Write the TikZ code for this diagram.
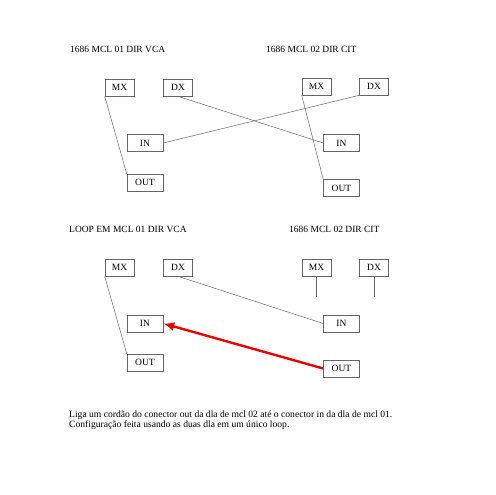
\documentclass[tikz,border=0pt]{standalone}
\usepackage{fontspec}
\setmainfont{Liberation Serif}
\usetikzlibrary{arrows.meta}

\begin{document}
\begin{tikzpicture}[x=1pt,y=-1pt,
	font=\fontsize{9.5}{9.5}\selectfont,
	box/.style={draw=black!60,line width=0.6pt,minimum width=29pt,minimum height=17pt,inner sep=0pt},
	wbox/.style={box,minimum width=36pt},
	wire/.style={draw=black!60,line width=0.5pt},
	cord/.style={draw=red!92!black,line width=2.4pt,-{Latex[length=11pt,width=9pt]}},
	title/.style={anchor=west,inner sep=0pt}]
	\useasboundingbox (0,0) rectangle (495,495);

	% ligacao normal
	\node[title] (t1) at (70,49) {1686 MCL 01 DIR VCA};
	\node[title] (t2) at (266,49) {1686 MCL 02 DIR CIT};
	\node[box] (mxa) at (119.5,87.5) {MX};
	\node[box] (dxa) at (178,87.5) {DX};
	\node[wbox] (ina) at (145,143) {IN};
	\node[wbox] (outa) at (145,182.5) {OUT};
	\node[box] (mxb) at (316.5,86.5) {MX};
	\node[box] (dxb) at (374,86.5) {DX};
	\node[wbox] (inb) at (341.5,143) {IN};
	\node[wbox] (outb) at (341.5,188) {OUT};
	\draw[wire] (mxa.south west) -- (outa.north west);
	\draw[wire] (mxb.south west) -- (outb.north west);
	\draw[wire] (dxa.south) -- (inb.west);
	\draw[wire] (ina.east) -- (dxb.south west);

	% loop
	\node[title] (t3) at (69,229) {LOOP EM MCL 01 DIR VCA};
	\node[title] (t4) at (289,229) {1686 MCL 02 DIR CIT};
	\node[box] (mxc) at (119.5,267.5) {MX};
	\node[box] (dxc) at (178,267.5) {DX};
	\node[wbox] (inc) at (145,323.5) {IN};
	\node[wbox] (outc) at (145,362.5) {OUT};
	\node[box] (mxd) at (316.5,267.5) {MX};
	\node[box] (dxd) at (374,267.5) {DX};
	\node[wbox] (ind) at (341.5,323.5) {IN};
	\node[wbox] (outd) at (341.5,368.5) {OUT};
	\coordinate (mxend) at (316.5,297);
	\coordinate (dxend) at (374,297);
	\draw[wire] (mxc.south west) -- (outc.north west);
	\draw[wire] (dxc.south) -- (ind.west);
	\draw[wire] (mxd.south) -- (mxend);
	\draw[wire] (dxd.south) -- (dxend);
	\draw[cord] (outd.west) -- (inc.east);

	\node[anchor=north west,align=left,inner sep=0pt,font=\fontsize{9.6}{9.8}\selectfont] (nota) at (69,411)
		{Liga um cordão do conector out da dla de mcl 02 até o conector in da dla de mcl 01.\\
		Configuração feita usando as duas dla em um único loop.};
\end{tikzpicture}
\end{document}
